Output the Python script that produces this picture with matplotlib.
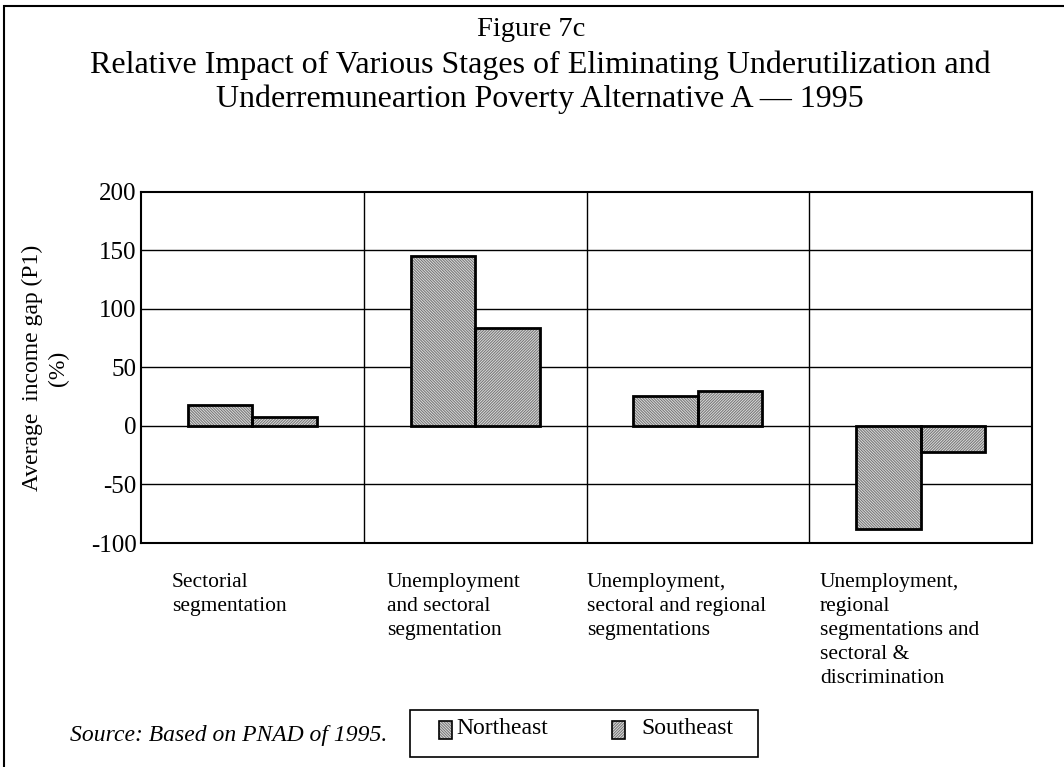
import matplotlib.pyplot as plt
import numpy as np
from matplotlib.patches import Rectangle

plt.rcParams['font.family'] = ['Liberation Serif', 'DejaVu Serif']
plt.rcParams['hatch.linewidth'] = 0.8

# data
categories = ["Sectorial\nsegmentation",
              "Unemployment\nand sectoral\nsegmentation",
              "Unemployment,\nsectoral and regional\nsegmentations",
              "Unemployment,\nregional\nsegmentations and\nsectoral &\ndiscrimination"]
northeast = [18, 145, 26, -88]
southeast = [8, 84, 30, -22]
yticks = [-100, -50, 0, 50, 100, 150, 200]

NE_HATCH = '\\' * 12
SE_HATCH = '/' * 12
HATCH_COL = '#7a7a7a'
FILL_COL = '#e2e2e2'

W, H = 1064, 767
fig = plt.figure(figsize=(W / 100, H / 100), dpi=100)

# axes placed by pixel box of the reference plot area
ax = fig.add_axes([141 / W, 1 - 543 / H, (1032 - 141) / W, (543 - 192) / H])

x = np.arange(len(categories))
bw = 0.29

def hatched_bars(xs, vals, hatch):
    # grey hatch fill, then a black outline on top
    ax.bar(xs, vals, width=bw, align='edge', facecolor=FILL_COL, edgecolor=HATCH_COL,
           hatch=hatch, linewidth=0, zorder=3)
    ax.bar(xs, vals, width=bw, align='edge', facecolor='none', edgecolor='black',
           linewidth=2, zorder=4)

hatched_bars(x - bw, northeast, NE_HATCH)
hatched_bars(x, southeast, SE_HATCH)

ax.set_xlim(-0.5, len(categories) - 0.5)
ax.set_ylim(-100, 200)
ax.set_yticks(yticks)
ax.set_yticklabels([str(v) for v in yticks], fontsize=18)
ax.set_xticks([])
ax.tick_params(axis='y', length=0, pad=3)
for v in yticks[1:-1]:
    ax.axhline(v, color='black', linewidth=1, zorder=1)
for b in x[:-1] + 0.5:
    ax.axvline(b, color='black', linewidth=1, zorder=1)
for s in ax.spines.values():
    s.set_linewidth(1.5)

fig.text(45 / W, 1 - 368 / H, "Average  income gap (P1)\n(%)", rotation=90,
         ha='center', va='center', multialignment='center', fontsize=17, linespacing=1.3)

# category labels under the plot
label_px = [172, 387, 587, 820]
for px, lab in zip(label_px, categories):
    fig.text(px / W, 1 - 573 / H, lab, ha='left', va='top', fontsize=15.5, linespacing=1.36)

fig.text(531 / W, 1 - 30 / H, "Figure 7c", ha='center', va='center', fontsize=20.5)
fig.text(540 / W, 1 - 82 / H,
         "Relative Impact of Various Stages of Eliminating Underutilization and\n"
         "Underremuneartion Poverty Alternative A \u2014 1995",
         ha='center', va='center', fontsize=23, linespacing=1.18)

fig.text(70 / W, 1 - 736 / H, "Source: Based on PNAD of 1995.", ha='left', va='center',
         fontsize=17, style='italic')

# legend box
fig.patches.append(Rectangle((410 / W, 1 - 757 / H), (758 - 410) / W, (757 - 710) / H,
                             transform=fig.transFigure, facecolor='none',
                             edgecolor='black', linewidth=1.2))
legend_items = [("Northeast", NE_HATCH, 439, 456), ("Southeast", SE_HATCH, 612, 641)]
for name, hatch, bx, tx in legend_items:
    fig.patches.append(Rectangle((bx / W, 1 - 739 / H), 13 / W, 18 / H,
                                 transform=fig.transFigure, facecolor=FILL_COL,
                                 edgecolor=HATCH_COL, hatch=hatch, linewidth=0))
    fig.patches.append(Rectangle((bx / W, 1 - 739 / H), 13 / W, 18 / H,
                                 transform=fig.transFigure, facecolor='none',
                                 edgecolor='black', linewidth=1.2))
    fig.text(tx / W, 1 - 729 / H, name, ha='left', va='center', fontsize=17)

# outer frame (right and bottom fall off the picture)
fig.patches.append(Rectangle((4 / W, -0.05), 1.1, 1 - 6 / H + 0.05,
                             transform=fig.transFigure, facecolor='none',
                             edgecolor='black', linewidth=1.5))

fig.savefig("out.png", dpi=100)
